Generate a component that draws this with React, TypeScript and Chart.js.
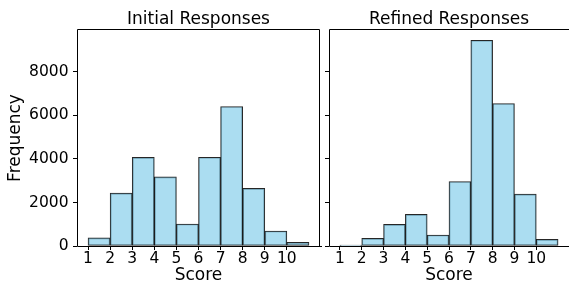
import React, { useEffect, useRef } from "react";
import { Chart, registerables } from "chart.js";

Chart.register(...registerables);

// ---- data ----
const scoreTicks = [1, 2, 3, 4, 5, 6, 7, 8, 9, 10];
const binStarts = [1, 2, 3, 4, 5, 6, 7, 8, 9, 10];
const binWidth = 1;
const initialCounts = [370, 2430, 4070, 3180, 1010, 4080, 6410, 2645, 690, 168];
const refinedCounts = [46, 352, 994, 1453, 505, 2965, 9453, 6547, 2386, 306];
const yTicks = [0, 2000, 4000, 6000, 8000];
const panelTitles = ["Initial Responses", "Refined Responses"];
const xLabel = "Score";
const yLabel = "Frequency";

const FONT = "'DejaVu Sans', sans-serif";
const yMax = Math.max(...initialCounts, ...refinedCounts) * 1.05;
const xMin = binStarts[0] - 0.05 * (binStarts.length * binWidth);
const xMax = binStarts[binStarts.length - 1] + binWidth + 0.05 * (binStarts.length * binWidth);

const framePlugin = {
  id: "frame",
  afterDatasetsDraw(chart: any, _args: any, opts: any) {
    const { ctx, chartArea } = chart;
    const { left, right, top, bottom } = chartArea;
    ctx.save();
    ctx.strokeStyle = "#000";
    ctx.lineWidth = 1;
    ctx.beginPath();
    const l = Math.round(left) + 0.5;
    const r = Math.round(right) - 0.5;
    const t = Math.round(top) - 0.5;
    const b = Math.round(bottom) + 0.5;
    ctx.moveTo(l, b);
    ctx.lineTo(l, t);
    ctx.lineTo(opts.drawRight ? r : Math.round(right) + 2, t);
    if (opts.drawRight) ctx.lineTo(r, b);
    ctx.moveTo(l, b);
    ctx.lineTo(Math.round(right) + 2, b);
    ctx.stroke();
    ctx.restore();
  },
};

function makeConfig(values: number[], title: string, isLeft: boolean): any {
  return {
    type: "bar",
    data: {
      datasets: [
        {
          data: binStarts.map((s, i) => ({ x: s + binWidth / 2, y: values[i] })),
          backgroundColor: "rgba(135,206,235,0.7)",
          borderColor: "rgba(0,0,0,0.85)",
          borderWidth: 1,
          borderSkipped: false,
          barPercentage: 1,
          categoryPercentage: 1,
        },
      ],
    },
    options: {
      responsive: false,
      animation: false,
      devicePixelRatio: 1,
      layout: { padding: { left: 0, right: isLeft ? 2 : 0, top: 0, bottom: 0 } },
      plugins: {
        legend: { display: false },
        tooltip: { enabled: false },
        title: {
          display: true,
          text: title,
          fullSize: false,
          color: "#000",
          font: { family: FONT, size: 17, weight: "normal", lineHeight: 1 },
          padding: { top: 11, bottom: 2 },
        },
        frame: { drawRight: isLeft },
      },
      scales: {
        x: {
          type: "linear",
          offset: false,
          min: xMin,
          max: xMax,
          afterBuildTicks: (axis: any) => {
            axis.ticks = scoreTicks.map((v) => ({ value: v }));
          },
          afterFit: (axis: any) => {
            axis.height = 40;
          },
          grid: { display: true, drawOnChartArea: false, drawTicks: true, tickLength: 4, color: "#000", offset: false },
          border: { display: false },
          ticks: {
            color: "#000",
            font: { family: FONT, size: 15.5, lineHeight: 1 },
            padding: 1,
            maxRotation: 0,
            autoSkip: false,
            callback: (v: any) => String(v),
          },
          title: {
            display: true,
            text: xLabel,
            color: "#000",
            font: { family: FONT, size: 17, lineHeight: 1 },
            padding: { top: 0, bottom: 1.5 },
          },
        },
        y: {
          type: "linear",
          min: 0,
          max: yMax,
          afterBuildTicks: (axis: any) => {
            axis.ticks = yTicks.map((v) => ({ value: v }));
          },
          afterFit: (axis: any) => {
            axis.width = isLeft ? 77 : 7;
          },
          grid: { display: true, drawOnChartArea: false, drawTicks: true, tickLength: 4, color: "#000" },
          border: { display: false },
          ticks: {
            display: isLeft,
            color: "#000",
            font: { family: FONT, size: 15.5, lineHeight: 1 },
            padding: 4.5,
            callback: (v: any) => String(v),
          },
          title: {
            display: isLeft,
            text: yLabel,
            color: "#000",
            font: { family: FONT, size: 17, lineHeight: 1 },
            padding: { top: 7.5, bottom: 0 },
          },
        },
      },
    },
    plugins: [framePlugin],
  };
}

export default function App() {
  const leftRef = useRef<HTMLCanvasElement>(null);
  const rightRef = useRef<HTMLCanvasElement>(null);

  useEffect(() => {
    const c1 = new Chart(leftRef.current!, makeConfig(initialCounts, panelTitles[0], true));
    const c2 = new Chart(rightRef.current!, makeConfig(refinedCounts, panelTitles[1], false));
    return () => {
      c1.destroy();
      c2.destroy();
    };
  }, []);

  return (
    <div style={{ position: "fixed", left: 0, top: 0, width: 569, height: 286, background: "#fff" }}>
      <canvas
        ref={leftRef}
        width={322}
        height={286}
        style={{ position: "absolute", left: 0, top: 0, width: 322, height: 286 }}
      />
      <canvas
        ref={rightRef}
        width={247}
        height={286}
        style={{ position: "absolute", left: 322, top: 0, width: 247, height: 286 }}
      />
    </div>
  );
}
